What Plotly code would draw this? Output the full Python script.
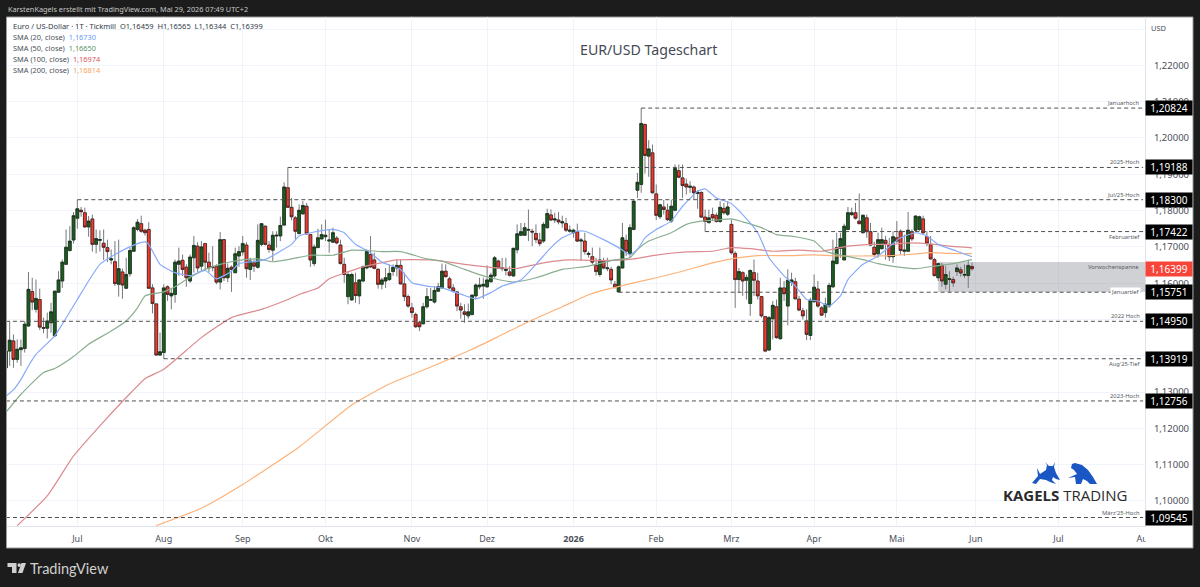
import plotly.graph_objects as go

FONT = "Noto Sans"
W, H = 1200, 587
PLOT_L, PLOT_R, PLOT_T, PLOT_B = 7, 1145, 17, 526

opens = [1.1367,1.1413,1.1441,1.1390,1.1417,1.1420,1.1482,1.1577,1.1528,1.1555,
1.1478,1.1476,1.1491,1.1455,1.1575,1.1606,1.1652,1.1690,1.1719,1.1779,
1.1801,1.1794,1.1755,1.1777,1.1707,1.1718,1.1710,1.1698,1.1664,1.1659,
1.1597,1.1631,1.1586,1.1626,1.1688,1.1748,1.1764,1.1746,1.1748,1.1587,
1.1543,1.1402,1.1409,1.1590,1.1565,1.1569,1.1652,1.1663,1.1644,1.1606,
1.1670,1.1702,1.1647,1.1709,1.1658,1.1643,1.1647,1.1603,1.1720,1.1615,
1.1644,1.1629,1.1675,1.1686,1.1705,1.1638,1.1656,1.1644,1.1707,1.1757,
1.1705,1.1691,1.1730,1.1730,1.1760,1.1863,1.1809,1.1780,1.1737,1.1791,
1.1812,1.1734,1.1654,1.1698,1.1722,1.1728,1.1716,1.1713,1.1724,1.1705,
1.1652,1.1563,1.1554,1.1601,1.1565,1.1606,1.1642,1.1679,1.1664,1.1638,
1.1597,1.1606,1.1610,1.1632,1.1642,1.1649,1.1598,1.1563,1.1532,1.1514,
1.1491,1.1488,1.1535,1.1553,1.1548,1.1578,1.1587,1.1633,1.1612,1.1587,
1.1576,1.1535,1.1521,1.1510,1.1514,1.1565,1.1590,1.1592,1.1590,1.1604,
1.1620,1.1661,1.1640,1.1635,1.1631,1.1620,1.1692,1.1732,1.1732,1.1746,
1.1743,1.1737,1.1719,1.1716,1.1753,1.1788,1.1774,1.1774,1.1766,1.1764,
1.1743,1.1739,1.1742,1.1716,1.1716,1.1679,1.1673,1.1649,1.1624,1.1661,
1.1640,1.1638,1.1597,1.1576,1.1642,1.1718,1.1681,1.1748,1.1856,1.1872,
1.2037,1.1950,1.1959,1.1846,1.1783,1.1810,1.1801,1.1771,1.1801,1.1910,
1.1890,1.1873,1.1864,1.1865,1.1847,1.1850,1.1782,1.1767,1.1789,1.1787,
1.1770,1.1806,1.1790,1.1762,1.1682,1.1610,1.1629,1.1608,1.1544,1.1629,
1.1606,1.1563,1.1508,1.1416,1.1502,1.1535,1.1447,1.1587,1.1537,1.1603,
1.1604,1.1556,1.1524,1.1496,1.1456,1.1549,1.1584,1.1532,1.1519,1.1537,
1.1590,1.1654,1.1696,1.1664,1.1748,1.1789,1.1794,1.1771,1.1739,1.1780,
1.1742,1.1699,1.1681,1.1695,1.1718,1.1707,1.1673,1.1725,1.1743,1.1688,
1.1688,1.1742,1.1746,1.1748,1.1777,1.1728,1.1706,1.1665,1.1615,1.1649,
1.1597,1.1610,1.1610,1.1632,1.1637,1.1622,1.1621,1.16459]

highs = [1.1427,1.1495,1.1459,1.1445,1.1445,1.1496,1.1631,1.1615,1.1610,1.1585,
1.1505,1.1519,1.1546,1.1578,1.1633,1.1665,1.1748,1.1757,1.1796,1.1830,
1.1810,1.1808,1.1785,1.1789,1.1748,1.1746,1.1748,1.1720,1.1693,1.1716,
1.1720,1.1640,1.1670,1.1698,1.1757,1.1777,1.1786,1.1750,1.1768,1.1597,
1.1543,1.1464,1.1597,1.1594,1.1587,1.1665,1.1698,1.1679,1.1652,1.1679,
1.1730,1.1713,1.1716,1.1711,1.1684,1.1702,1.1652,1.1741,1.1722,1.1654,
1.1649,1.1698,1.1702,1.1730,1.1713,1.1670,1.1665,1.1762,1.1766,1.1759,
1.1716,1.1743,1.1743,1.1783,1.1878,1.19188,1.1835,1.1785,1.1817,1.1826,
1.1821,1.1734,1.1707,1.1750,1.1762,1.1775,1.1748,1.1753,1.1730,1.1720,
1.1670,1.1633,1.1629,1.1629,1.1610,1.1649,1.1693,1.1730,1.1684,1.1642,
1.1615,1.1642,1.1652,1.1652,1.1665,1.1665,1.1629,1.1569,1.1546,1.1519,
1.1496,1.1546,1.1587,1.1587,1.1592,1.1601,1.1654,1.1652,1.1618,1.1597,
1.1578,1.1546,1.1542,1.1544,1.1569,1.1599,1.1615,1.1615,1.1649,1.1629,
1.1675,1.1665,1.1670,1.1670,1.1647,1.1698,1.1762,1.1766,1.1766,1.1803,
1.1750,1.1762,1.1739,1.1768,1.1805,1.1803,1.1794,1.1796,1.1786,1.1780,
1.1759,1.1750,1.1764,1.1725,1.1739,1.1688,1.1698,1.1670,1.1698,1.1670,
1.1670,1.1645,1.1606,1.1649,1.1766,1.1734,1.1762,1.1832,1.1904,1.20824,
1.2040,1.1994,1.1982,1.1872,1.1819,1.1829,1.1819,1.1830,1.1927,1.1927,
1.1927,1.1888,1.1881,1.1869,1.1856,1.1853,1.1803,1.1803,1.1808,1.1794,
1.1826,1.1821,1.1826,1.1775,1.1688,1.1642,1.1633,1.1624,1.1638,1.1665,
1.1629,1.1565,1.1510,1.1510,1.1551,1.1555,1.1615,1.1606,1.1638,1.1629,
1.1615,1.1565,1.1532,1.1528,1.1560,1.1624,1.1606,1.1537,1.1560,1.1601,
1.1720,1.1739,1.1739,1.1764,1.1810,1.1808,1.1821,1.1847,1.1789,1.1789,
1.1766,1.1714,1.1739,1.1753,1.1730,1.1725,1.1743,1.1771,1.1748,1.1734,
1.1796,1.1748,1.1786,1.1786,1.1786,1.1743,1.1730,1.1670,1.1656,1.1656,
1.1647,1.1633,1.1618,1.1652,1.1645,1.1652,1.1665,1.16565]

lows = [1.1363,1.1372,1.1367,1.1381,1.1372,1.1409,1.1480,1.1526,1.1519,1.1471,
1.1462,1.1448,1.1464,1.1453,1.1574,1.1587,1.1651,1.1687,1.1709,1.1750,
1.1783,1.1752,1.1728,1.1687,1.1682,1.1687,1.1664,1.1658,1.1652,1.1592,
1.1563,1.1557,1.1585,1.1618,1.1686,1.1743,1.1739,1.1731,1.1585,1.1517,
1.1401,1.1400,1.13919,1.1551,1.1528,1.1546,1.1620,1.1620,1.1590,1.1601,
1.1629,1.1631,1.1631,1.1638,1.1629,1.1633,1.1597,1.1583,1.1606,1.1603,
1.1576,1.1627,1.1645,1.1676,1.1615,1.1609,1.1631,1.1640,1.1702,1.1704,
1.1684,1.1661,1.1698,1.1716,1.1759,1.1808,1.1773,1.1720,1.1734,1.1789,
1.1733,1.1645,1.1647,1.1698,1.1720,1.1716,1.1684,1.1711,1.1707,1.1652,
1.1601,1.1542,1.1551,1.1546,1.1542,1.1603,1.1638,1.1642,1.1638,1.1585,
1.1583,1.1587,1.1606,1.1620,1.1618,1.1597,1.1551,1.1532,1.1505,1.1477,
1.1468,1.1487,1.1530,1.1551,1.1544,1.1576,1.1585,1.1615,1.1583,1.1574,
1.1523,1.1502,1.1491,1.1502,1.1511,1.1555,1.1583,1.1557,1.1587,1.1601,
1.1615,1.1640,1.1633,1.1621,1.1618,1.1618,1.1682,1.1730,1.1730,1.1716,
1.1702,1.1711,1.1702,1.1711,1.1750,1.1771,1.1766,1.1762,1.1753,1.1741,
1.1739,1.1725,1.1713,1.1661,1.1679,1.1670,1.1652,1.1621,1.1618,1.1638,
1.1633,1.1597,1.1585,1.15751,1.1640,1.1675,1.1670,1.1746,1.1835,1.1849,
1.1902,1.1893,1.1847,1.1774,1.1777,1.1789,1.1771,1.1766,1.1798,1.1889,
1.1835,1.1844,1.1849,1.1830,1.1805,1.1780,1.17422,1.1764,1.1771,1.1767,
1.1766,1.1789,1.1785,1.1679,1.1532,1.1574,1.1565,1.1555,1.1510,1.1565,
1.1555,1.1505,1.1410,1.1413,1.1445,1.1447,1.1445,1.1551,1.1484,1.1592,
1.1555,1.1523,1.1500,1.1443,1.1443,1.1546,1.1532,1.1510,1.1505,1.1532,
1.1587,1.1652,1.1670,1.1664,1.1746,1.1785,1.1775,1.1762,1.1737,1.1725,
1.1702,1.1673,1.1670,1.1693,1.1665,1.1661,1.1656,1.1711,1.1679,1.1675,
1.1686,1.1716,1.1741,1.1743,1.1734,1.1702,1.1665,1.1618,1.1606,1.1590,
1.1583,1.1576,1.1590,1.1620,1.1618,1.1615,1.1587,1.16344]

closes = [1.1413,1.1443,1.1390,1.1418,1.1422,1.1487,1.1583,1.1548,1.1558,1.1479,
1.1476,1.1496,1.1521,1.1578,1.1609,1.1658,1.1699,1.1716,1.1786,1.1805,
1.1797,1.1755,1.1771,1.1707,1.1723,1.1720,1.1699,1.1687,1.1667,1.1599,
1.1640,1.1595,1.1624,1.1690,1.1753,1.1768,1.1743,1.1739,1.1586,1.1544,
1.1402,1.1411,1.1587,1.1569,1.1572,1.1658,1.1661,1.1638,1.1615,1.1672,
1.1704,1.1642,1.1700,1.1658,1.1642,1.1645,1.1603,1.1720,1.1615,1.1641,
1.1638,1.1681,1.1687,1.1709,1.1640,1.1661,1.1647,1.1718,1.1764,1.1707,
1.1693,1.1732,1.1732,1.1759,1.1865,1.1809,1.1783,1.1743,1.1801,1.1814,
1.1736,1.1664,1.1700,1.1725,1.1734,1.1732,1.1719,1.1739,1.1711,1.1654,
1.1624,1.1624,1.1624,1.1566,1.1609,1.1645,1.1687,1.1645,1.1641,1.1597,
1.1609,1.1615,1.1627,1.1644,1.1649,1.1598,1.1563,1.1537,1.1519,1.1480,
1.1480,1.1535,1.1563,1.1555,1.1580,1.1590,1.1633,1.1618,1.1587,1.1578,
1.1537,1.1526,1.1514,1.1521,1.1567,1.1595,1.1595,1.1597,1.1609,1.1622,
1.1670,1.1642,1.1642,1.1638,1.1622,1.1696,1.1736,1.1742,1.1753,1.1748,
1.1741,1.1720,1.1709,1.1762,1.1792,1.1774,1.1777,1.1769,1.1769,1.1746,
1.1746,1.1746,1.1716,1.1719,1.1687,1.1682,1.1658,1.1632,1.1664,1.1642,
1.1642,1.1609,1.1589,1.1645,1.1725,1.1688,1.1753,1.1826,1.1878,1.2040,
1.1952,1.1970,1.1849,1.1787,1.1816,1.1803,1.1775,1.1812,1.1916,1.1892,
1.1869,1.1865,1.1867,1.1849,1.1851,1.1782,1.1770,1.1780,1.1780,1.1770,
1.1809,1.1794,1.1810,1.1684,1.1610,1.1632,1.1606,1.1616,1.1635,1.1608,
1.1565,1.1510,1.1413,1.1505,1.1539,1.1450,1.1587,1.1571,1.1608,1.1609,
1.1557,1.1526,1.1510,1.1459,1.1553,1.1589,1.1537,1.1512,1.1542,1.1594,
1.1661,1.1698,1.1723,1.1757,1.1794,1.1794,1.1779,1.1764,1.1787,1.1742,
1.1705,1.1679,1.1720,1.1720,1.1709,1.1673,1.1728,1.1716,1.1690,1.1691,
1.1746,1.1722,1.1785,1.1783,1.1739,1.1709,1.1667,1.1621,1.1654,1.1606,
1.1624,1.1612,1.1601,1.1642,1.1628,1.1624,1.1649,1.16399]

bars = list(range(len(opens)))

sma20_bar = [0,2,4,6,8,13,15,19,22,25,29,34,37,38,41,45,49,53,56,60,62,67,69,73,76,78,82,87,89,90,93,97,100,105,108,112,116,122,125,129,132,137,141,145,148,152,154,159,163,166,168,170,173,177,180,184,186,189,193,196,200,203,207,210,213,216,219,222,224,228,232,238,242,245,248,253,257]
sma20_val = [1.1289,1.1306,1.1335,1.1372,1.1404,1.1455,1.1487,1.1555,1.1606,1.1652,1.1679,1.1705,1.1714,1.1707,1.1652,1.1629,1.1621,1.1635,1.1612,1.1633,1.1654,1.1661,1.1665,1.1688,1.1707,1.1730,1.1741,1.1748,1.1743,1.1739,1.1707,1.1684,1.1658,1.1638,1.1601,1.1592,1.1587,1.1566,1.1557,1.1574,1.1592,1.1609,1.1652,1.1698,1.1725,1.1743,1.1743,1.1720,1.1698,1.1679,1.1693,1.1725,1.1748,1.1771,1.1812,1.1853,1.1860,1.1835,1.1819,1.1789,1.1739,1.1670,1.1620,1.1592,1.1555,1.1551,1.1537,1.1565,1.1610,1.1652,1.1675,1.1725,1.1739,1.1730,1.1707,1.1688,1.1673]

sma50_bar = [0,4,10,13,18,22,28,32,35,37,42,45,48,53,57,62,67,71,76,81,87,92,96,100,105,112,116,122,128,135,141,148,155,162,166,168,171,177,181,185,189,193,196,201,205,210,215,218,223,228,232,237,242,247,252,257]
sma50_val = [1.1244,1.1294,1.1354,1.1365,1.1398,1.1432,1.1468,1.1496,1.1532,1.1565,1.1576,1.1590,1.1610,1.1638,1.1652,1.1663,1.1667,1.1659,1.1667,1.1677,1.1677,1.1691,1.1690,1.1687,1.1687,1.1667,1.1661,1.1638,1.1617,1.1603,1.1615,1.1638,1.1647,1.1664,1.1670,1.1693,1.1716,1.1739,1.1762,1.1771,1.1774,1.1777,1.1769,1.1753,1.1734,1.1728,1.1716,1.1688,1.1675,1.1665,1.1654,1.1645,1.1640,1.1647,1.1654,1.1665]

sma100_bar = [3,11,18,25,32,37,42,52,60,68,74,78,83,86,89,95,104,113,122,131,136,143,150,159,167,172,181,188,193,198,204,211,217,224,231,236,240,247,251,257]
sma100_val = [1.0932,1.1014,1.1124,1.1207,1.1285,1.1337,1.1363,1.1450,1.1505,1.1528,1.1551,1.1569,1.1587,1.1612,1.1624,1.1645,1.1664,1.1664,1.1652,1.1642,1.1641,1.1656,1.1664,1.1662,1.1667,1.1676,1.1686,1.1688,1.1698,1.1695,1.1688,1.1691,1.1688,1.1702,1.1707,1.1707,1.1711,1.1707,1.1702,1.16974]

sma200_bar = [40,52,62,78,92,102,113,124,131,139,148,155,158,167,173,180,188,193,200,208,215,221,229,233,240,246,251,257]
sma200_val = [1.0932,1.0980,1.1039,1.1149,1.12645,1.13223,1.13691,1.1418,1.1453,1.1494,1.1535,1.1568,1.1578,1.1601,1.1615,1.1633,1.1656,1.1667,1.1676,1.1676,1.1678,1.1675,1.1675,1.1675,1.1679,1.1684,1.1682,1.16814]

month_bars = [19,42,63,85,108,128,151,173,193,215,237,258,280,303]
month_labels = ["Jul","Aug","Sep","Okt","Nov","Dez","<b>2026</b>","Feb","Mrz","Apr","Mai","Jun","Jul","Aug"]

price_ticks = [1.10,1.11,1.12,1.13,1.14,1.15,1.16,1.17,1.18,1.19,1.20,1.21,1.22]
grid_only_tick = 1.23

level_names = ["Januarhoch","2025-Hoch","Jul/25-Hoch","Februartief","Januartief","2022 Hoch","Aug'25-Tief","2023-Hoch","März'25-Hoch"]
level_prices = [1.20824,1.19188,1.18300,1.17422,1.15751,1.14950,1.13919,1.12756,1.09545]
level_start_bars = [169,75,19,186,163,0,42,0,0]
level_label_shift = [5,5,5,-5,0,5,-5,5,5]

range_label = "Vorwochenspanne"
range_high, range_low = 1.16584, 1.15758
range_start_bar = 248

x_min, x_max = 0.29, 303.02
y_min, y_max = 1.09311, 1.23333

def px(x): return x / W
def py(y): return 1 - y / H
def poly(points):
    return "M " + " L ".join(f"{px(x):.5f},{py(y):.5f}" for x, y in points) + " Z"

fig = go.Figure()

# wicks (full range, grey)
fig.add_trace(go.Candlestick(x=bars, open=opens, high=highs, low=lows, close=closes,
    increasing=dict(line=dict(color="#77787c", width=1), fillcolor="#77787c"),
    decreasing=dict(line=dict(color="#77787c", width=1), fillcolor="#77787c"),
    whiskerwidth=0, hoverinfo="skip", showlegend=False))
# bodies (black outline)
body_hi = [max(o, c) for o, c in zip(opens, closes)]
body_lo = [min(o, c) for o, c in zip(opens, closes)]
fig.add_trace(go.Candlestick(x=bars, open=opens, high=body_hi, low=body_lo, close=closes,
    increasing=dict(line=dict(color="#142414", width=0.6), fillcolor="#1b5e20"),
    decreasing=dict(line=dict(color="#2a1010", width=0.6), fillcolor="#ef3b2f"),
    whiskerwidth=0, hoverinfo="skip", showlegend=False))

for xs, ys, col in [(sma200_bar, sma200_val, "#fdb27a"), (sma100_bar, sma100_val, "#dc8a90"),
                    (sma50_bar, sma50_val, "#8aae90"), (sma20_bar, sma20_val, "#88abfa")]:
    fig.add_trace(go.Scatter(x=xs, y=ys, mode="lines", hoverinfo="skip", showlegend=False,
                             line=dict(color=col, width=1.2, shape="spline", smoothing=0.5)))

for start, price in zip(level_start_bars, level_prices):
    fig.add_trace(go.Scatter(x=[start, x_max - 0.5], y=[price, price], mode="lines", hoverinfo="skip",
                             showlegend=False, line=dict(color="#505050", width=1, dash="4px,3px")))

shapes = [
    dict(type="rect", xref="paper", yref="paper", x0=px(6.5), x1=px(1193), y0=py(548), y1=py(17),
         fillcolor="#ffffff", line=dict(color="#9a9a9a", width=1), layer="below"),
    dict(type="rect", xref="x", yref="y", x0=range_start_bar, x1=x_max, y0=range_low, y1=range_high,
         fillcolor="rgba(120,123,134,0.35)", line=dict(width=0), layer="between"),
    # cover that cuts the last time label at the price scale
    dict(type="rect", xref="paper", yref="paper", x0=px(1145.5), x1=px(1192), y0=py(547), y1=py(527),
         fillcolor="#ffffff", line=dict(width=0), layer="above"),
    # Kagels bull
    dict(type="path", xref="paper", yref="paper", fillcolor="#1a56c4", line=dict(width=0), layer="above",
         path=poly([(1032,483),(1038,476),(1037,468),(1040,474),(1046,470),(1047,465),(1045,462),(1049,466),
                    (1053,466),(1055,462),(1054,467),(1056,473),(1060,480),(1056,479),(1053,477),(1052,480),
                    (1056,484),(1050,482),(1046,480),(1040,479),(1036,484)])),
    # Kagels bear
    dict(type="path", xref="paper", yref="paper", fillcolor="#1a56c4", line=dict(width=0), layer="above",
         path=poly([(1068,478),(1077,474),(1074,470),(1071,468),(1072,464),(1075,463),(1082,465),(1088,470),
                    (1093,477),(1097,484),(1090,484),(1087,481),(1083,479),(1081,484),(1076,484),(1075,477)])),
    # TradingView mark
    dict(type="path", xref="paper", yref="paper", fillcolor="#d0d0d0", line=dict(width=0), layer="above",
         path=poly([(7.5,563),(16.5,563),(16.5,573),(12,573),(12,567),(7.5,567)])),
    dict(type="circle", xref="paper", yref="paper", fillcolor="#d0d0d0", line=dict(width=0), layer="above",
         x0=px(17.5), x1=px(21), y0=py(567), y1=py(563.2)),
    dict(type="path", xref="paper", yref="paper", fillcolor="#d0d0d0", line=dict(width=0), layer="above",
         path=poly([(21.5,563),(26,563),(22.5,573),(18,573)])),
]

ann = []
def text_px(x, y, text, size, color, anchor="left", bold=False, family=FONT):
    ann.append(dict(xref="paper", yref="paper", x=px(x), y=py(y), text=f"<b>{text}</b>" if bold else text,
                    showarrow=False, xanchor=anchor, yanchor="middle",
                    font=dict(family=family, size=size, color=color)))

text_px(6, 9.5, "KarstenKagels erstellt mit TradingView.com, Mai 29, 2026 07:49 UTC+2", 7.3, "#c8c8c8")
text_px(11, 26, f"Euro / US-Dollar · 1T · Tickmill&nbsp;&nbsp;O{opens[-1]:.5f}&nbsp;&nbsp;H{highs[-1]:.5f}&nbsp;&nbsp;L{lows[-1]:.5f}&nbsp;&nbsp;C{closes[-1]:.5f}".replace("1.", "1,"), 7.5, "#333a45")
legend_rows = [("SMA (20, close)", "1,16730", "#6b97f7"), ("SMA (50, close)", "1,16650", "#5f9465"),
               ("SMA (100, close)", "1,16974", "#d9565e"), ("SMA (200, close)", "1,16814", "#f9a35c")]
for k, (name, val, col) in enumerate(legend_rows):
    text_px(11, 37 + 11 * k, f'{name}&nbsp;&nbsp;<span style="color:{col}">{val}</span>', 7.4, "#4a4f5a")

text_px(648.5, 50, "EUR/USD Tageschart", 14.2, "#454a55", anchor="center")
text_px(1159, 28, "USD", 7.5, "#4a4f5a", anchor="center")
text_px(1065.5, 495, "<b>KAGELS</b> TRADING", 15, "#2b2b2b", anchor="center", family="Open Sans")
text_px(69.5, 568, "TradingView", 14.5, "#d0d0d0", anchor="center", bold=False, family="Lato")

for name, price, shift in zip(level_names, level_prices, level_label_shift):
    ann.append(dict(xref="paper", yref="y", x=px(1141), y=price, text=name, showarrow=False,
                    xanchor="right", yanchor="middle", yshift=shift, borderpad=0,
                    bgcolor="#ffffff" if shift == 0 else "rgba(0,0,0,0)",
                    font=dict(family=FONT, size=5.8, color="#555a63")))
ann.append(dict(xref="paper", yref="y", x=px(1141), y=range_high, text=range_label, showarrow=False,
                xanchor="right", yanchor="middle", yshift=-5, font=dict(family=FONT, size=5.8, color="#555a63")))

for price in level_prices:
    ann.append(dict(xref="paper", yref="y", x=px(1145), y=price, text=f"{price:.5f}".replace(".", ","),
                    showarrow=False, xanchor="left", yanchor="middle", width=46, height=14, align="center",
                    bgcolor="#000000", borderpad=0, font=dict(family=FONT, size=10, color="#ffffff")))
ann.append(dict(xref="paper", yref="y", x=px(1145), y=closes[-1], text=f"{closes[-1]:.5f}".replace(".", ","),
                showarrow=False, xanchor="left", yanchor="middle", width=46, height=14, align="center",
                bgcolor="#f7453a", borderpad=0, font=dict(family=FONT, size=10, color="#ffffff")))

fig.update_layout(
    width=W, height=H, margin=dict(l=0, r=0, t=0, b=0, autoexpand=False),
    paper_bgcolor="#1c1c1c", plot_bgcolor="rgba(0,0,0,0)",
    separators=",.", showlegend=False, shapes=shapes, annotations=ann, hovermode=False,
    font=dict(family=FONT), boxgap=0.25, boxgroupgap=0,
    xaxis=dict(domain=[px(PLOT_L), px(PLOT_R)], range=[x_min, x_max], rangeslider=dict(visible=False),
               tickmode="array", tickvals=month_bars, ticktext=month_labels, ticks="", showgrid=True,
               gridcolor="#f0f3fa", gridwidth=1, zeroline=False, showline=True, linecolor="#e0e3eb", linewidth=1,
               tickfont=dict(family=FONT, size=9, color="#4a4f5a"), ticklabelstandoff=4),
    yaxis=dict(domain=[py(PLOT_B), py(PLOT_T)], range=[y_min, y_max], side="right",
               tickmode="array", tickvals=price_ticks + [grid_only_tick],
               ticktext=[f"{p:.5f}".replace(".", ",") for p in price_ticks] + [""], ticks="", showgrid=True,
               gridcolor="#f0f3fa", gridwidth=1, zeroline=False, showline=True, linecolor="#e0e3eb", linewidth=1,
               tickfont=dict(family=FONT, size=9.5, color="#4a4f5a"), ticklabelstandoff=6),
)

fig.write_html("out.html", config=dict(displayModeBar=False),
               post_script="document.body.style.margin='0';document.documentElement.style.background='#1c1c1c';document.body.style.overflow='hidden';")
